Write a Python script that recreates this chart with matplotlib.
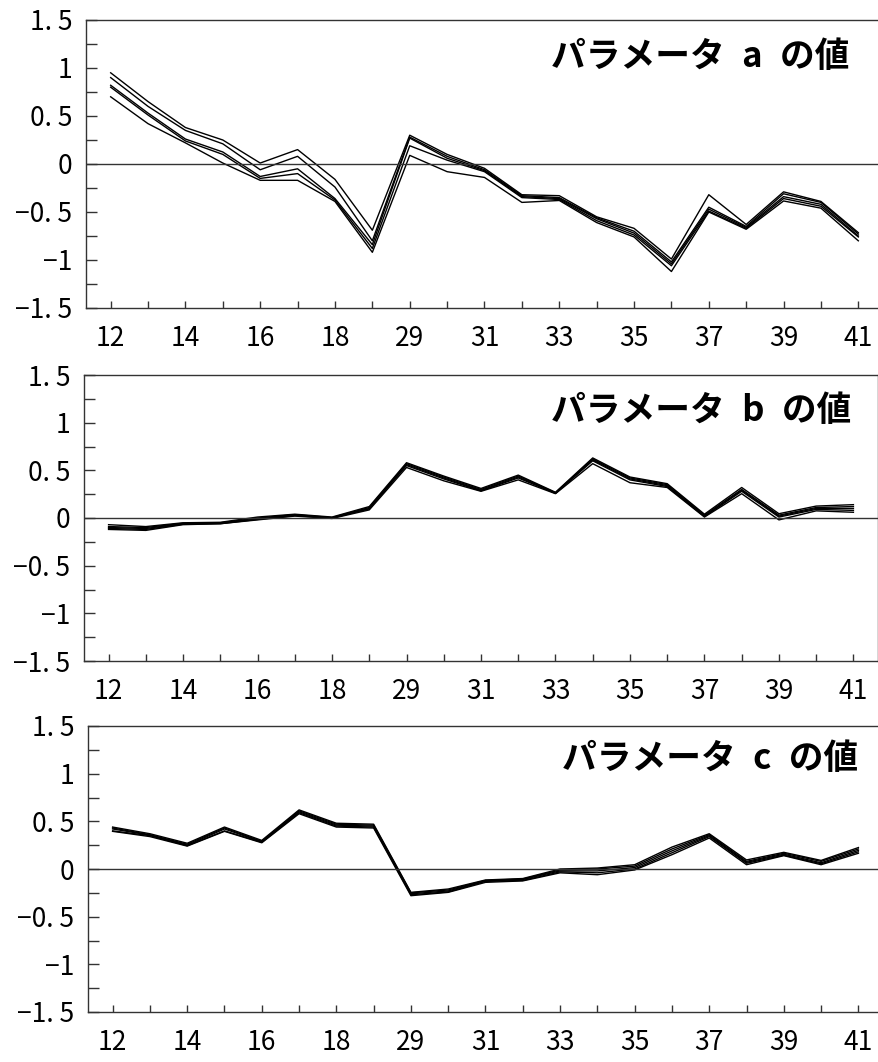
import matplotlib
matplotlib.use('Agg')
import matplotlib.pyplot as plt
from matplotlib.ticker import MultipleLocator, FixedLocator

plt.rcParams['font.family'] = ['Noto Sans CJK JP', 'DejaVu Sans']

# periods on the x axis (only every other one is labelled)
periods = ['12', '13', '14', '15', '16', '17', '18', '19', '29', '30', '31',
           '32', '33', '34', '35', '36', '37', '38', '39', '40', '41']

# parameter a, five estimation runs
a_runs = [
    [0.95, 0.65, 0.38, 0.25, 0.01, 0.15, -0.16, -0.69, 0.30, 0.10, -0.045, -0.32, -0.33, -0.55, -0.67, -0.99, -0.32, -0.63, -0.29, -0.39, -0.715],
    [0.90, 0.60, 0.35, 0.21, -0.06, 0.08, -0.24, -0.80, 0.28, 0.08, -0.06, -0.33, -0.35, -0.56, -0.70, -1.02, -0.45, -0.65, -0.31, -0.40, -0.73],
    [0.82, 0.53, 0.26, 0.125, -0.13, -0.05, -0.36, -0.84, 0.27, 0.06, -0.07, -0.34, -0.36, -0.57, -0.72, -1.04, -0.47, -0.66, -0.34, -0.42, -0.75],
    [0.80, 0.51, 0.24, 0.10, -0.15, -0.10, -0.375, -0.88, 0.19, 0.04, -0.08, -0.35, -0.37, -0.59, -0.74, -1.06, -0.49, -0.67, -0.36, -0.44, -0.76],
    [0.70, 0.42, 0.22, 0.01, -0.17, -0.17, -0.39, -0.92, 0.09, -0.08, -0.14, -0.40, -0.38, -0.61, -0.76, -1.12, -0.50, -0.68, -0.385, -0.46, -0.80],
]

# parameter b
b_runs = [
    [-0.07, -0.09, -0.05, -0.045, 0.01, 0.04, 0.01, 0.12, 0.58, 0.44, 0.31, 0.45, 0.27, 0.63, 0.43, 0.36, 0.04, 0.32, 0.045, 0.125, 0.14],
    [-0.09, -0.10, -0.055, -0.05, 0.0, 0.035, 0.005, 0.11, 0.57, 0.43, 0.30, 0.44, 0.265, 0.62, 0.42, 0.35, 0.03, 0.30, 0.03, 0.11, 0.12],
    [-0.10, -0.11, -0.06, -0.055, -0.01, 0.03, 0.0, 0.10, 0.56, 0.42, 0.29, 0.43, 0.26, 0.61, 0.41, 0.34, 0.02, 0.29, 0.02, 0.10, 0.10],
    [-0.11, -0.12, -0.065, -0.06, -0.015, 0.025, 0.0, 0.095, 0.55, 0.41, 0.285, 0.42, 0.26, 0.60, 0.40, 0.33, 0.015, 0.28, 0.01, 0.09, 0.08],
    [-0.12, -0.13, -0.07, -0.06, -0.02, 0.02, -0.005, 0.085, 0.53, 0.39, 0.28, 0.40, 0.255, 0.57, 0.37, 0.32, 0.01, 0.255, -0.02, 0.075, 0.06],
]

# parameter c
c_runs = [
    [0.44, 0.37, 0.27, 0.44, 0.30, 0.62, 0.48, 0.47, -0.245, -0.21, -0.115, -0.10, 0.0, 0.01, 0.045, 0.23, 0.37, 0.095, 0.175, 0.09, 0.225],
    [0.43, 0.36, 0.26, 0.43, 0.29, 0.61, 0.47, 0.46, -0.25, -0.22, -0.12, -0.105, -0.01, 0.0, 0.03, 0.21, 0.36, 0.08, 0.165, 0.08, 0.21],
    [0.42, 0.355, 0.25, 0.42, 0.285, 0.60, 0.46, 0.45, -0.26, -0.23, -0.125, -0.11, -0.02, -0.02, 0.015, 0.19, 0.35, 0.07, 0.155, 0.065, 0.195],
    [0.40, 0.35, 0.245, 0.40, 0.28, 0.59, 0.45, 0.44, -0.27, -0.24, -0.13, -0.12, -0.03, -0.04, 0.0, 0.17, 0.34, 0.06, 0.145, 0.055, 0.18],
    [0.395, 0.34, 0.24, 0.395, 0.275, 0.58, 0.44, 0.43, -0.28, -0.245, -0.14, -0.125, -0.04, -0.06, -0.01, 0.15, 0.325, 0.045, 0.14, 0.045, 0.165],
]

titles = ['パラメータ\u2002a\u2002の値', 'パラメータ\u2002b\u2002の値', 'パラメータ\u2002c\u2002の値']
ytick_vals = [-1.5, -1, -0.5, 0, 0.5, 1, 1.5]
ytick_labels = ['−1. 5', '−1', '−0. 5', '0', '0. 5', '1', '1. 5']

W, H = 879, 1062
fig = plt.figure(figsize=(W / 100, H / 100), dpi=100)

# axes boxes in pixels: left, top, right, bottom
boxes = [(86, 20, 883, 308), (84, 375, 878, 661), (88, 726, 883, 1012)]
title_pos = [(0.958, 0.875), (0.966, 0.875), (0.969, 0.885)]

x = list(range(len(periods)))
for k, runs in enumerate([a_runs, b_runs, c_runs]):
    l, t, r, b = boxes[k]
    ax = fig.add_axes([l / W, 1 - b / H, (r - l) / W, (b - t) / H])
    for run in runs:
        ax.plot(x, run, color='black', lw=1.0)
    ax.axhline(0, color='#333333', lw=1.0)

    ax.set_xlim(-0.66, 20.66)
    ax.set_ylim(-1.5, 1.5)
    ax.xaxis.set_major_locator(FixedLocator(x[::2]))
    ax.xaxis.set_minor_locator(FixedLocator(x[1::2]))
    ax.set_xticklabels(periods[::2])
    ax.set_yticks(ytick_vals)
    ax.set_yticklabels(ytick_labels)
    ax.yaxis.set_minor_locator(MultipleLocator(0.25))

    ax.tick_params(axis='x', which='both', direction='in', length=5, width=1,
                   color='#333333', labelsize=19, pad=12)
    ax.tick_params(axis='y', which='both', direction='in', length=8, width=1,
                   color='#333333', labelsize=19, pad=10)
    for sp in ax.spines.values():
        sp.set_color('#333333')
        sp.set_linewidth(1.0)

    tx, ty = title_pos[k]
    ax.text(tx, ty, titles[k], transform=ax.transAxes, ha='right', va='center',
            fontsize=25, fontweight='bold')

fig.savefig('out.png', dpi=100)
